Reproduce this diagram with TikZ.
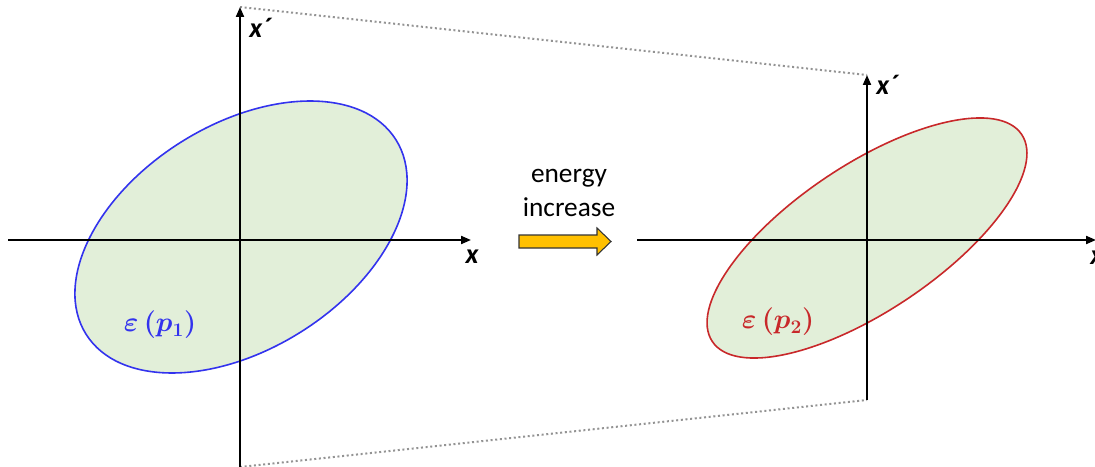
\documentclass[tikz,border=0pt]{standalone}
\usepackage{fontspec}
\setmainfont{Carlito}
\usetikzlibrary{arrows.meta}
\definecolor{fillg}{HTML}{E2EFD9}
\definecolor{blueE}{HTML}{3333EE}
\definecolor{redE}{HTML}{C8282A}
\definecolor{orangeA}{HTML}{FFC000}
\tikzset{
  axis/.style={line width=1.5pt,-{Triangle[length=7.5pt,width=6pt]}},
  guide/.style={gray!85,line width=1.5pt,dotted},
  axlabel/.style={font=\fontsize{21}{23}\selectfont\bfseries\itshape,inner sep=0pt},
  eps/.style={font=\fontsize{21}{23}\selectfont\boldmath,inner sep=0pt},
}
\begin{document}
\begin{tikzpicture}[x=0.75pt,y=-0.75pt]
\useasboundingbox (0,0) rectangle (1095,467);
% left ellipse
\draw[blueE,fill=fillg,line width=1.2pt,rotate around={32.1:(241,237)}] (241,237) ellipse [x radius=137.2pt, y radius=84.2pt];
% right ellipse
\draw[redE,fill=fillg,line width=1.2pt,rotate around={33.8:(867,238)}] (867,238) ellipse [x radius=139.6pt, y radius=54.8pt];
% coordinates
\coordinate (lxs) at (8,240);
\coordinate (lxe) at (471,240);
\coordinate (lys) at (240,467);
\coordinate (lye) at (240,7);
\coordinate (rxs) at (637,240);
\coordinate (rxe) at (1096,240);
\coordinate (rys) at (867,400);
\coordinate (rye) at (867,75);
% guides
\draw[guide] (lye) -- (rye);
\draw[guide] (lys) -- (rys);
% axes
\draw[axis] (lxs) -- (lxe);
\draw[axis] (lys) -- (lye);
\draw[axis] (rxs) -- (rxe);
\draw[axis] (rys) -- (rye);
% labels
\node[axlabel,anchor=west] (lxp) at (249,28) {x´};
\node[axlabel] (lx) at (472,257) {x};
\node[axlabel,anchor=west] (rxp) at (876,85) {x´};
\node[axlabel,anchor=west] (rx) at (1090,258) {x};
\node[eps,text=blueE] (e1) at (160,325) {$\varepsilon\,(p_1)$};
\node[eps,text=redE] (e2) at (778,322) {$\varepsilon\,(p_2)$};
% energy arrow
\node[font=\fontsize{20.5}{25}\selectfont,align=center,inner sep=0pt] (txt) at (569,193) {energy\\[1pt]increase};
\draw[fill=orangeA,line width=0.8pt,draw=black!80] (519,235) -- (597,235) -- (597,228) -- (611,241.5) -- (597,255) -- (597,248) -- (519,248) -- cycle;
\end{tikzpicture}
\end{document}
